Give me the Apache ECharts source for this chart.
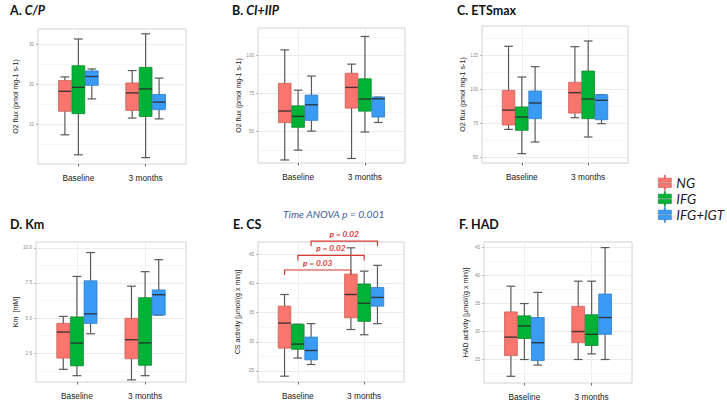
<!DOCTYPE html>
<html><head><meta charset="utf-8">
<script src="https://cdn.jsdelivr.net/npm/echarts@6/dist/echarts.min.js"></script>
<style>html,body{margin:0;padding:0;background:#fff;}#c{width:727px;height:403px;}</style>
</head><body><div id="c"></div>
<script>
// ---------- DATA ----------
const groups = ['NG', 'IFG', 'IFG+IGT'];
const timepoints = ['Baseline', '3 months'];

// each row: [min, Q1, median, Q3, max]; rows = Baseline, 3 months
const cpNG  = [[7.3, 13.2, 18.2, 20.9, 21.8], [11.5, 13.4, 17.8, 20.3, 23.4]];
const cpIFG = [[2.3, 12.6, 19.2, 24.6, 31.3], [1.6, 11.9, 18.8, 24.2, 32.6]];
const cpIGT = [[16.3, 19.7, 21.9, 23.3, 23.8], [11.3, 13.6, 15.5, 17.4, 21.5]];

const ciNG  = [[31.0, 55.7, 63.4, 81.7, 103.8], [32.0, 65.3, 79.0, 88.4, 94.4]];
const ciIFG = [[37.5, 52.6, 59.8, 66.8, 77.2], [49.5, 63.3, 71.3, 84.7, 112.7]];
const ciIGT = [[50.1, 57.2, 67.5, 73.9, 86.5], [55.8, 59.4, 71.5, 72.6, 72.6]];

const etsNG  = [[70.8, 74.0, 85.0, 99.5, 131.9], [79.4, 82.8, 97.8, 105.4, 131.6]];
const etsIFG = [[53.0, 70.1, 79.9, 87.3, 109.3], [65.2, 78.7, 93.1, 113.7, 135.8]];
const etsIGT = [[61.5, 78.7, 90.2, 99.0, 116.9], [75.0, 77.9, 92.2, 96.3, 96.3]];

const kmNG  = [[1.35, 2.15, 4.0, 4.62, 5.12], [0.6, 2.1, 3.46, 4.98, 7.27]];
const kmIFG = [[0.9, 1.6, 3.22, 5.08, 7.96], [0.9, 1.64, 3.23, 6.45, 8.3]];
const kmIGT = [[3.88, 4.62, 5.3, 7.65, 9.66], [5.21, 5.21, 6.66, 7.0, 9.15]];

const csNG  = [[24.1, 28.9, 33.2, 36.1, 38.1], [32.1, 34.1, 38.1, 41.6, 46.1]];
const csIFG = [[27.2, 28.7, 29.6, 33.0, 33.0], [31.2, 33.5, 36.6, 39.9, 42.1]];
const csIGT = [[26.1, 26.9, 28.5, 30.8, 33.1], [33.1, 36.1, 37.6, 39.3, 43.1]];

const hadNG  = [[22.0, 25.7, 29.0, 33.5, 38.1], [25.0, 28.0, 30.0, 34.5, 39.0]];
const hadIFG = [[25.0, 28.75, 31.0, 32.8, 35.0], [26.0, 27.5, 29.5, 33.0, 39.0]];
const hadIGT = [[24.0, 24.8, 28.0, 32.5, 37.0], [25.0, 29.5, 32.5, 36.7, 45.0]];

// tick labels (major) and minor grid values
const cpTicks = [10, 20, 30];          const cpMinor = [5, 15, 25];
const ciTicks = [50, 75, 100];         const ciMinor = [37.5, 62.5, 87.5, 112.5];
const etsTicks = [50, 75, 100, 125];   const etsMinor = [62.5, 87.5, 112.5, 137.5];
const kmTicks = [2.5, 5, 7.5, 10];     const kmMinor = [1.25, 3.75, 6.25, 8.75];
const csTicks = [25, 30, 35, 40, 45];  const csMinor = [27.5, 32.5, 37.5, 42.5];
const hadTicks = [25, 30, 35, 40, 45]; const hadMinor = [22.5, 27.5, 32.5, 37.5, 42.5];

// CS annotations (brackets compare each group Baseline vs 3 months)
const csBracketLabels = ['p = 0.03', 'p = 0.02', 'p = 0.02'];
const anovaLabel = 'Time ANOVA p = 0.001';

// ---------- STYLE / LAYOUT ----------
const FILLS = ['#F8766D', '#00B336', '#3A9BF5'];
const STROKES = ['#C9625B', '#0C8A30', '#2F7CC6'];
const WHISKER = '#5a5a5a';
const MEDIAN = 'rgba(40,40,40,0.85)';
const OFFS = [-0.2, 0, 0.2];
const BOX_HALF = 0.095, CAP_HALF = 0.065;
const AX_FONT = 'Liberation Sans';
const TITLE_FONT = 'Lato';

const panels = [
  { title: ['A. ', 'C/P'], it: true, yName: 'O2 flux (pmol mg-1 s-1)', data: [cpNG, cpIFG, cpIGT],
    ticks: cpTicks, minor: cpMinor, range: [0, 33.8], rect: [38, 29, 148, 135], gap: 19, tpos: [10, 4], dec: 0 },
  { title: ['B. ', 'CI+IIP'], it: true, yName: 'O2 flux (pmol mg-1 s-1)', data: [ciNG, ciIFG, ciIGT],
    ticks: ciTicks, minor: ciMinor, range: [29, 118.3], rect: [258, 28, 147, 135], gap: 16, tpos: [232, 4], dec: 0 },
  { title: ['C. ', 'ETSmax'], it: false, yName: 'O2 flux (pmol mg-1 s-1)', data: [etsNG, etsIFG, etsIGT],
    ticks: etsTicks, minor: etsMinor, range: [46.1, 146.8], rect: [482, 26, 146, 137], gap: 13, tpos: [457, 4], dec: 0 },
  { title: ['D. ', 'Km'], it: false, yName: 'Km  [mM]', data: [kmNG, kmIFG, kmIGT],
    ticks: kmTicks, minor: kmMinor, range: [0.45, 10.41], rect: [36, 242, 150, 140], gap: 17, tpos: [10, 218], dec: 1 },
  { title: ['E. ', 'CS'], it: false, yName: 'CS activity [\u03bcmol/(g x min)]', data: [csNG, csIFG, csIGT],
    ticks: csTicks, minor: csMinor, range: [23.1, 47.1], rect: [258, 242, 146, 140], gap: 17, tpos: [233, 218], dec: 0 },
  { title: ['F. ', 'HAD'], it: false, yName: 'HAD activity [\u03bcmol/(g x min)]', data: [hadNG, hadIFG, hadIGT],
    ticks: hadTicks, minor: hadMinor, range: [20.8, 46], rect: [484, 242, 148, 141], gap: 15, tpos: [459, 218], dec: 0 }
];

function boxRender(gi) {
  return function (params, api) {
    const x = api.value(0) + OFFS[gi];
    const mn = api.value(1), q1 = api.value(2), md = api.value(3), q3 = api.value(4), mx = api.value(5);
    const pT = api.coord([x, mx]), pB = api.coord([x, mn]);
    const tl = api.coord([x - BOX_HALF, q3]), br = api.coord([x + BOX_HALF, q1]);
    const cl = api.coord([x - CAP_HALF, mx])[0], cr = api.coord([x + CAP_HALF, mx])[0];
    const mL = api.coord([x - BOX_HALF, md]), mR = api.coord([x + BOX_HALF, md]);
    const ws = { stroke: WHISKER, lineWidth: 1.2, fill: null };
    return { type: 'group', children: [
      { type: 'line', shape: { x1: pT[0], y1: pT[1], x2: pB[0], y2: pB[1] }, style: ws },
      { type: 'line', shape: { x1: cl, y1: pT[1], x2: cr, y2: pT[1] }, style: ws },
      { type: 'line', shape: { x1: cl, y1: pB[1], x2: cr, y2: pB[1] }, style: ws },
      { type: 'rect', shape: { x: tl[0], y: tl[1], width: br[0] - tl[0], height: br[1] - tl[1] },
        style: { fill: FILLS[gi], stroke: STROKES[gi], lineWidth: 0.8 } },
      { type: 'line', shape: { x1: mL[0], y1: mL[1], x2: mR[0], y2: mR[1] }, style: { stroke: MEDIAN, lineWidth: 1.4 } }
    ] };
  };
}

const grid = [], xAxis = [], yAxis = [], series = [], title = [];
panels.forEach((p, i) => {
  grid.push({ left: p.rect[0], top: p.rect[1], width: p.rect[2], height: p.rect[3],
    show: true, borderColor: '#d2d2d2', borderWidth: 1, backgroundColor: '#fff' });
  xAxis.push({ type: 'value', gridIndex: i, min: 0.4, max: 2.6,
    axisLine: { show: false },
    axisTick: { show: true, customValues: [1, 2], length: 2.5, lineStyle: { color: '#444', width: 0.8 } },
    axisLabel: { customValues: [1, 2], formatter: v => timepoints[Math.round(v) - 1], margin: 9.5,
      fontFamily: AX_FONT, fontSize: 8.3, color: '#1a1a1a' },
    splitLine: { show: true, lineStyle: { color: '#ebebeb', width: 0.8 } } });
  yAxis.push({ type: 'value', gridIndex: i, min: p.range[0], max: p.range[1],
    name: p.yName, nameLocation: 'middle', nameRotate: 90, nameGap: p.gap,
    nameTextStyle: { fontFamily: AX_FONT, fontSize: 7.1, color: '#1a1a1a' },
    axisLine: { show: false },
    axisTick: { show: true, customValues: p.ticks, length: 2, lineStyle: { color: '#888', width: 0.6 } },
    axisLabel: { customValues: p.ticks, formatter: v => v.toFixed(p.dec), margin: 4,
      fontFamily: AX_FONT, fontSize: 4.6, color: '#8a8a8a' },
    splitLine: { show: true, lineStyle: { color: '#e6e6e6', width: 0.8 } } });
  yAxis.push({ type: 'value', gridIndex: i, min: p.range[0], max: p.range[1],
    axisLine: { show: false }, axisLabel: { show: false },
    axisTick: { show: false, customValues: p.minor },
    splitLine: { show: true, lineStyle: { color: '#f2f2f2', width: 0.6 } } });
  p.data.forEach((arr, gi) => {
    series.push({ type: 'custom', name: groups[gi], xAxisIndex: i, yAxisIndex: 2 * i,
      itemStyle: { color: FILLS[gi] }, renderItem: boxRender(gi), clip: false,
      encode: { x: 0, y: [1, 2, 3, 4, 5] },
      data: timepoints.map((t, ti) => [ti + 1].concat(arr[ti])) });
  });
  title.push({ left: p.tpos[0], top: p.tpos[1], padding: 0,
    text: '{a|' + p.title[0] + '}{' + (p.it ? 'b' : 'a') + '|' + p.title[1] + '}',
    textStyle: { rich: {
      a: { fontFamily: TITLE_FONT, fontWeight: 'bold', fontSize: 12.5, color: '#111' },
      b: { fontFamily: TITLE_FONT, fontWeight: 'bold', fontStyle: 'italic', fontSize: 12.5, color: '#111' } } } });
});

// CS brackets
const BRACKET_LEVELS = [42.3, 44.8, 47.25];
series.push({ type: 'custom', xAxisIndex: 4, yAxisIndex: 8, clip: false, silent: true,
  data: csBracketLabels.map((l, gi) => [gi, BRACKET_LEVELS[gi]]),
  renderItem: function (params, api) {
    const gi = api.value(0), lv = api.value(1);
    const a = api.coord([1 + OFFS[gi], lv]), b = api.coord([2 + OFFS[gi], lv]);
    const col = '#DA3A33';
    return { type: 'group', children: [
      { type: 'polyline', shape: { points: [[a[0], a[1] + 5], [a[0], a[1]], [b[0], b[1]], [b[0], b[1] + 5]] },
        style: { stroke: col, lineWidth: 1.2, fill: null } },
      { type: 'text', x: (a[0] + b[0]) / 2, y: a[1] - 7,
        style: { text: csBracketLabels[params.dataIndex], fill: col, font: 'italic bold 8.3px Lato',
          align: 'center', verticalAlign: 'middle' } }
    ] };
  } });

title.push({ left: 283, top: 209, padding: 0, text: anovaLabel,
  textStyle: { fontFamily: TITLE_FONT, fontStyle: 'italic', fontWeight: 'normal', fontSize: 10.3, color: '#3B63A6' } });

const ICON = 'path://M6.4 0H7.6V3H6.4Z M0 3H14V7.4H0Z M0 8.6H14V13H0Z M6.4 13H7.6V16H6.4Z';
const chart = echarts.init(document.getElementById('c'), null, { renderer: 'svg' });
chart.setOption({
  animation: false,
  backgroundColor: '#fff',
  title, grid, xAxis, yAxis, series,
  legend: { orient: 'vertical', left: 658, top: 175, itemWidth: 13, itemHeight: 15, itemGap: 0.5,
    padding: 0, selectedMode: false,
    data: groups.map((g, gi) => ({ name: g, icon: ICON,
      itemStyle: { color: FILLS[gi], borderColor: STROKES[gi], borderWidth: 0.7 } })),
    textStyle: { fontFamily: TITLE_FONT, fontStyle: 'italic', fontSize: 13.5, color: '#1a1a1a', lineHeight: 15 } }
});
</script></body></html>
